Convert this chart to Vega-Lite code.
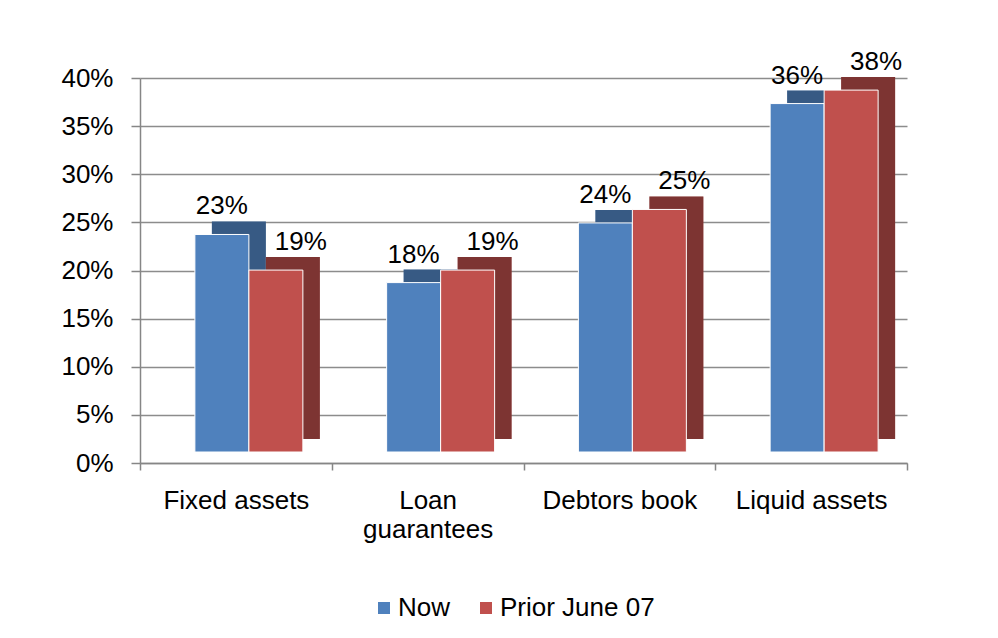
{
  "$schema": "https://vega.github.io/schema/vega-lite/v6.json",
  "width": 767,
  "height": 385,
  "autosize": "none",
  "padding": {"left": 140, "top": 78, "right": 91, "bottom": 175},
  "background": "white",
  "config": {"view": {"stroke": null}, "font": "Liberation Sans"},
  "data": {
    "values": [
      {"category": "Fixed assets", "series": "Now", "value": 0.226},
      {"category": "Fixed assets", "series": "Prior June 07", "value": 0.189},
      {"category": "Loan guarantees", "series": "Now", "value": 0.176},
      {"category": "Loan guarantees", "series": "Prior June 07", "value": 0.189},
      {"category": "Debtors book", "series": "Now", "value": 0.238},
      {"category": "Debtors book", "series": "Prior June 07", "value": 0.252},
      {"category": "Liquid assets", "series": "Now", "value": 0.362},
      {"category": "Liquid assets", "series": "Prior June 07", "value": 0.376}
    ]
  },
  "encoding": {
    "x": {
      "field": "category",
      "type": "nominal",
      "sort": ["Fixed assets", "Loan guarantees", "Debtors book", "Liquid assets"],
      "scale": {"paddingInner": 0, "paddingOuter": 0},
      "axis": {
        "title": null,
        "labelAngle": 0,
        "labelFontSize": 26,
        "labelColor": "#000000",
        "labelPadding": 17,
        "labelLineHeight": 29,
        "labelExpr": "datum.label == 'Loan guarantees' ? ['Loan', 'guarantees'] : datum.label",
        "tickBand": "extent",
        "tickSize": 7,
        "tickColor": "#868686",
        "tickWidth": 1.5,
        "domainColor": "#868686",
        "domainWidth": 1.5,
        "grid": false
      }
    },
    "y": {
      "field": "value",
      "type": "quantitative",
      "scale": {"domain": [0, 0.4]},
      "axis": {
        "title": null,
        "values": [0, 0.05, 0.1, 0.15, 0.2, 0.25, 0.3, 0.35, 0.4],
        "format": ".0%",
        "labelFontSize": 26,
        "labelColor": "#000000",
        "labelPadding": 18,
        "tickSize": 9,
        "tickColor": "#868686",
        "tickWidth": 1.5,
        "domainColor": "#868686",
        "domainWidth": 1.5,
        "grid": true,
        "gridColor": "#8c8c8c",
        "gridWidth": 1.5
      }
    },
    "color": {
      "field": "series",
      "type": "nominal",
      "scale": {"domain": ["Now", "Prior June 07"], "range": ["#4f81bd", "#c0504d"]},
      "legend": {
        "title": null,
        "orient": "none",
        "legendX": 231,
        "legendY": 517,
        "direction": "horizontal",
        "symbolType": "square",
        "symbolSize": 144,
        "symbolStrokeWidth": 0,
        "labelFontSize": 26,
        "labelColor": "#000000",
        "labelOffset": 1,
        "columnPadding": 22
      }
    }
  },
  "layer": [
    {
      "transform": [{"filter": "datum.series == 'Now'"}],
      "mark": {"type": "bar", "width": {"band": 0.2816}, "xOffset": 3, "yOffset": -24}
    },
    {
      "transform": [{"filter": "datum.series == 'Now'"}],
      "mark": {"type": "bar", "width": {"band": 0.2816}, "xOffset": 3, "yOffset": -24, "opacity": 0.3},
      "encoding": {"color": {"value": "#000000"}}
    },
    {
      "transform": [{"filter": "datum.series == 'Prior June 07'"}],
      "mark": {"type": "bar", "width": {"band": 0.2816}, "xOffset": 57, "yOffset": -24}
    },
    {
      "transform": [{"filter": "datum.series == 'Prior June 07'"}],
      "mark": {"type": "bar", "width": {"band": 0.2816}, "xOffset": 57, "yOffset": -24, "opacity": 0.35},
      "encoding": {"color": {"value": "#000000"}}
    },
    {
      "transform": [{"filter": "datum.series == 'Now'"}],
      "mark": {"type": "bar", "width": {"band": 0.2816}, "xOffset": -14, "yOffset": -11, "stroke": "white", "strokeWidth": 1}
    },
    {
      "transform": [{"filter": "datum.series == 'Prior June 07'"}],
      "mark": {"type": "bar", "width": {"band": 0.2816}, "xOffset": 40, "yOffset": -11, "stroke": "white", "strokeWidth": 1}
    },
    {
      "transform": [{"filter": "datum.series == 'Now'"}],
      "mark": {"type": "text", "baseline": "bottom", "dx": -14, "dy": -26, "fontSize": 26},
      "encoding": {"text": {"field": "value", "type": "quantitative", "format": ".0%"}, "color": {"value": "#000000"}}
    },
    {
      "transform": [{"filter": "datum.series == 'Prior June 07'"}],
      "mark": {"type": "text", "baseline": "bottom", "dx": 65, "dy": -26, "fontSize": 26},
      "encoding": {"text": {"field": "value", "type": "quantitative", "format": ".0%"}, "color": {"value": "#000000"}}
    }
  ]
}
